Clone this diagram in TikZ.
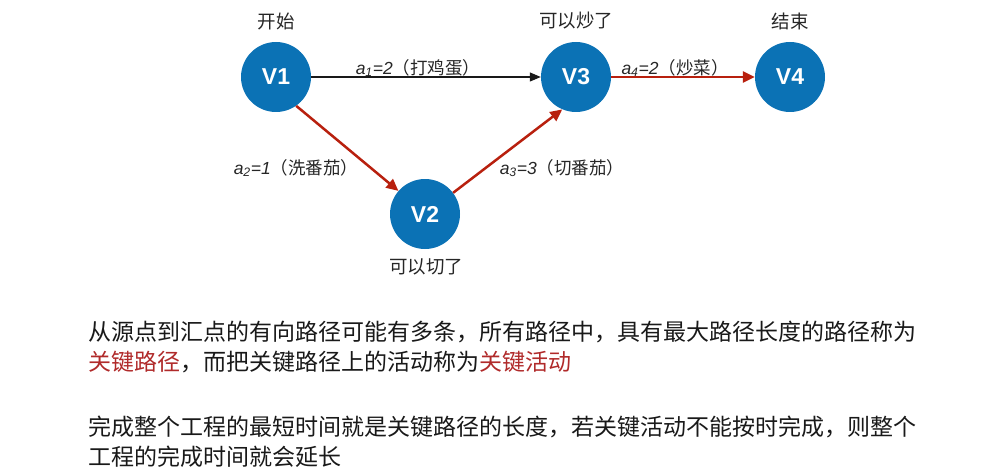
\documentclass[tikz,border=0pt]{standalone}
\usepackage{fontspec}
\setmainfont{Liberation Sans}
\newfontfamily\cjk{Noto Sans CJK SC}
\usetikzlibrary{arrows.meta}
\definecolor{nodeblue}{HTML}{0B72B5}
\definecolor{arrred}{HTML}{B8200E}
\definecolor{txtred}{HTML}{B02A2A}
\begin{document}
\begin{tikzpicture}[x=1pt,y=-1pt,
  vnode/.style={circle,fill=nodeblue,minimum size=70pt,inner sep=0pt,text=white,font=\fontsize{23}{23}\selectfont\bfseries},
  captext/.style={font=\cjk\fontsize{18.5}{18.5}\selectfont,text=black!85,inner sep=0pt},
  elabel/.style={font=\fontsize{17.5}{17.5}\selectfont,text=black!85,inner sep=0pt},
  blackarrow/.style={draw=black!90,line width=1.1pt,-{Triangle[length=11pt,width=9pt]}},
  redarrow/.style={draw=arrred,line width=2.5pt,-{Triangle[length=12pt,width=11pt]}},
  para/.style={anchor=west,font=\cjk\fontsize{23}{23}\selectfont,text=black!90,inner sep=0pt}]
\useasboundingbox (0,0) rectangle (993,476);
% vertices
\node[vnode] (V1) at (276,77) {V1};
\node[vnode] (V2) at (425,214) {V2};
\node[vnode] (V3) at (576,77) {V3};
\node[vnode] (V4) at (790,77) {V4};
% captions
\node[captext] (c1) at (276,21) {开始};
\node[captext] (c3) at (576,21) {可以炒了};
\node[captext] (c4) at (790,21) {结束};
\node[captext] (c2) at (426,267) {可以切了};
% edges
\draw[blackarrow] (V1) -- (V3);
\draw[redarrow] (V3) -- (V4);
\draw[redarrow] (V1.-55) -- (V2.139);
\draw[redarrow] (V2.37) -- (V3.-113);
% edge labels
\node[elabel] (l1) at (418,68) {\textit{a\textsubscript{1}=2}{\cjk（打鸡蛋）}};
\node[elabel] (l4) at (675,68) {\textit{a\textsubscript{4}=2}{\cjk（炒菜）}};
\node[elabel] (l2) at (296,168) {\textit{a\textsubscript{2}=1}{\cjk（洗番茄）}};
\node[elabel] (l3) at (562,168) {\textit{a\textsubscript{3}=3}{\cjk（切番茄）}};
% paragraphs
\node[para] (p1) at (88,332) {从源点到汇点的有向路径可能有多条，所有路径中，具有最大路径长度的路径称为};
\node[para] (p2) at (88,362) {\textcolor{txtred}{关键路径}，而把关键路径上的活动称为\textcolor{txtred}{关键活动}};
\node[para] (p3) at (88,427) {完成整个工程的最短时间就是关键路径的长度，若关键活动不能按时完成，则整个};
\node[para] (p4) at (88,457) {工程的完成时间就会延长};
\end{tikzpicture}
\end{document}
